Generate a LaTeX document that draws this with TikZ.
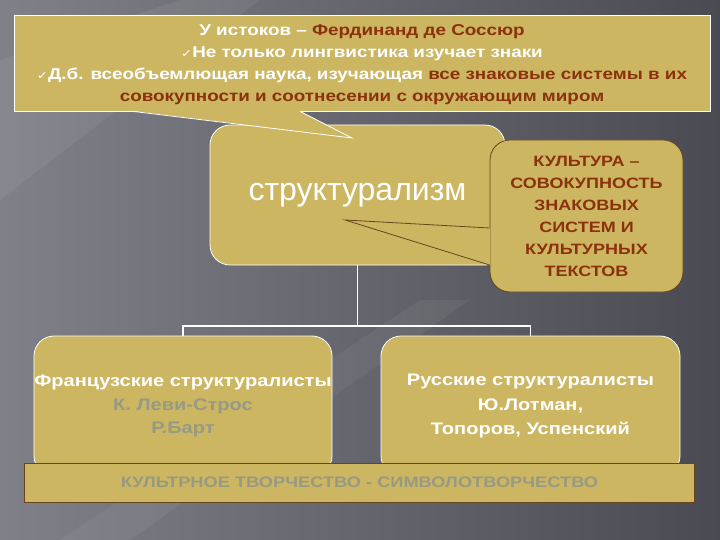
\documentclass[tikz,border=0pt]{standalone}
\usepackage{fontspec}
\setmainfont{Liberation Sans}
\newfontfamily\widefont[FakeStretch=1.2]{Liberation Sans}
\newfontfamily\checkfont[FakeStretch=1.2]{DejaVu Sans}
\usetikzlibrary{
  positioning
}

\definecolor{khaki}{RGB}{204,182,98}
\definecolor{rust}{RGB}{139,50,12}
\definecolor{muted}{RGB}{150,154,132}
\definecolor{frame-brown}{RGB}{105,68,28}
\definecolor{bg-dark}{RGB}{74,74,82}
\definecolor{bg-light}{RGB}{128,128,136}

\newcommand{\tick}{{\checkfont\fontsize{11bp}{11bp}\selectfont ✓}}

\begin{document}
\begin{tikzpicture}[x=1bp,y=-1bp,
  panel/.style={
    fill=khaki,
    draw=white,
    line width=0.8bp
  },
  rounded-panel/.style={
    panel,
    rounded corners=20bp
  },
  label-text/.style={
    text=white,
    font=\widefont\bfseries\fontsize{15.7bp}{21.7bp}\selectfont,
    align=center
  }
]

% background
\useasboundingbox (0,0) rectangle (720,540);
\shade[left color=bg-light, right color=bg-dark] (0,0) rectangle (720,540);
\fill[white, opacity=0.06] (0,60) -- (180,0) -- (260,0) -- (0,200) -- cycle;
\fill[white, opacity=0.05] (60,540) -- (420,300) -- (470,300) -- (130,540) -- cycle;

% centre
\node (structuralism) [rounded-panel, minimum width=295bp, minimum height=140bp,
  text=white, font=\fontsize{32bp}{36bp}\selectfont] at (357.5,195) {структурализм};

% top callout
\node (top-callout) [panel, minimum width=696bp, minimum height=96bp,
  inner ysep=0pt, text depth=-2bp, label-text] at (362,63)
  {У истоков – \textcolor{rust}{Фердинанд де Соссюр}\\
   \tick Не только лингвистика изучает знаки\\
   \tick Д.б. всеобъемлющая наука, изучающая \textcolor{rust}{все знаковые системы в их}\\
   \textcolor{rust}{совокупности и соотнесении с окружающим миром}};
\coordinate (top-tip) at (352,138);
\fill[khaki] ([xshift=-229bp,yshift=0.5bp]top-callout.south) -- (top-tip)
  -- ([xshift=-62bp,yshift=0.5bp]top-callout.south) -- cycle;
\draw[white, line width=0.8bp] ([xshift=-229bp]top-callout.south) -- (top-tip)
  -- ([xshift=-62bp]top-callout.south);

% culture callout
\node (culture-callout) [rounded-panel, draw=frame-brown, minimum width=193bp,
  minimum height=152bp, text=rust,
  font=\widefont\bfseries\fontsize{15bp}{22bp}\selectfont,
  align=center] at (586.5,216)
  {КУЛЬТУРА –\\СОВОКУПНОСТЬ\\ЗНАКОВЫХ\\СИСТЕМ И\\КУЛЬТУРНЫХ\\ТЕКСТОВ};
\coordinate (culture-tip) at (345,220);
\fill[khaki] ([xshift=0.6bp,yshift=-12bp]culture-callout.west) -- (culture-tip)
  -- ([xshift=0.6bp,yshift=-49bp]culture-callout.west) -- cycle;
\draw[frame-brown, line width=0.8bp] ([yshift=-12bp]culture-callout.west) -- (culture-tip)
  -- ([yshift=-49bp]culture-callout.west);

% lower boxes
\node (french-box) [rounded-panel, minimum width=298bp, minimum height=140bp,
  inner xsep=0pt, label-text,
  font=\widefont\bfseries\fontsize{16.7bp}{23.5bp}\selectfont] at (183,406)
  {Французские структуралисты\\
   \textcolor{muted}{К. Леви-Строс}\\
   \textcolor{muted}{Р.Барт}};
\node (russian-box) [rounded-panel, minimum width=299bp, minimum height=140bp,
  inner xsep=0pt, label-text,
  font=\widefont\bfseries\fontsize{16.7bp}{24.5bp}\selectfont] at (530.5,406)
  {Русские структуралисты\\Ю.Лотман,\\Топоров, Успенский};

\coordinate (fork) at (357.5,326);
\draw[white, line width=1.5bp] (structuralism.south) -- (fork);
\draw[white, line width=1.5bp] (french-box.north) |- (fork) -| (russian-box.north);

% bottom band
\node (creation-band) [fill=khaki, draw=frame-brown, line width=1bp,
  minimum width=669bp, minimum height=39bp, text=muted,
  font=\widefont\bfseries\fontsize{15.2bp}{17bp}\selectfont] at (359.5,482.5)
  {КУЛЬТРНОЕ ТВОРЧЕСТВО - СИМВОЛОТВОРЧЕСТВО};

\end{tikzpicture}
\end{document}
